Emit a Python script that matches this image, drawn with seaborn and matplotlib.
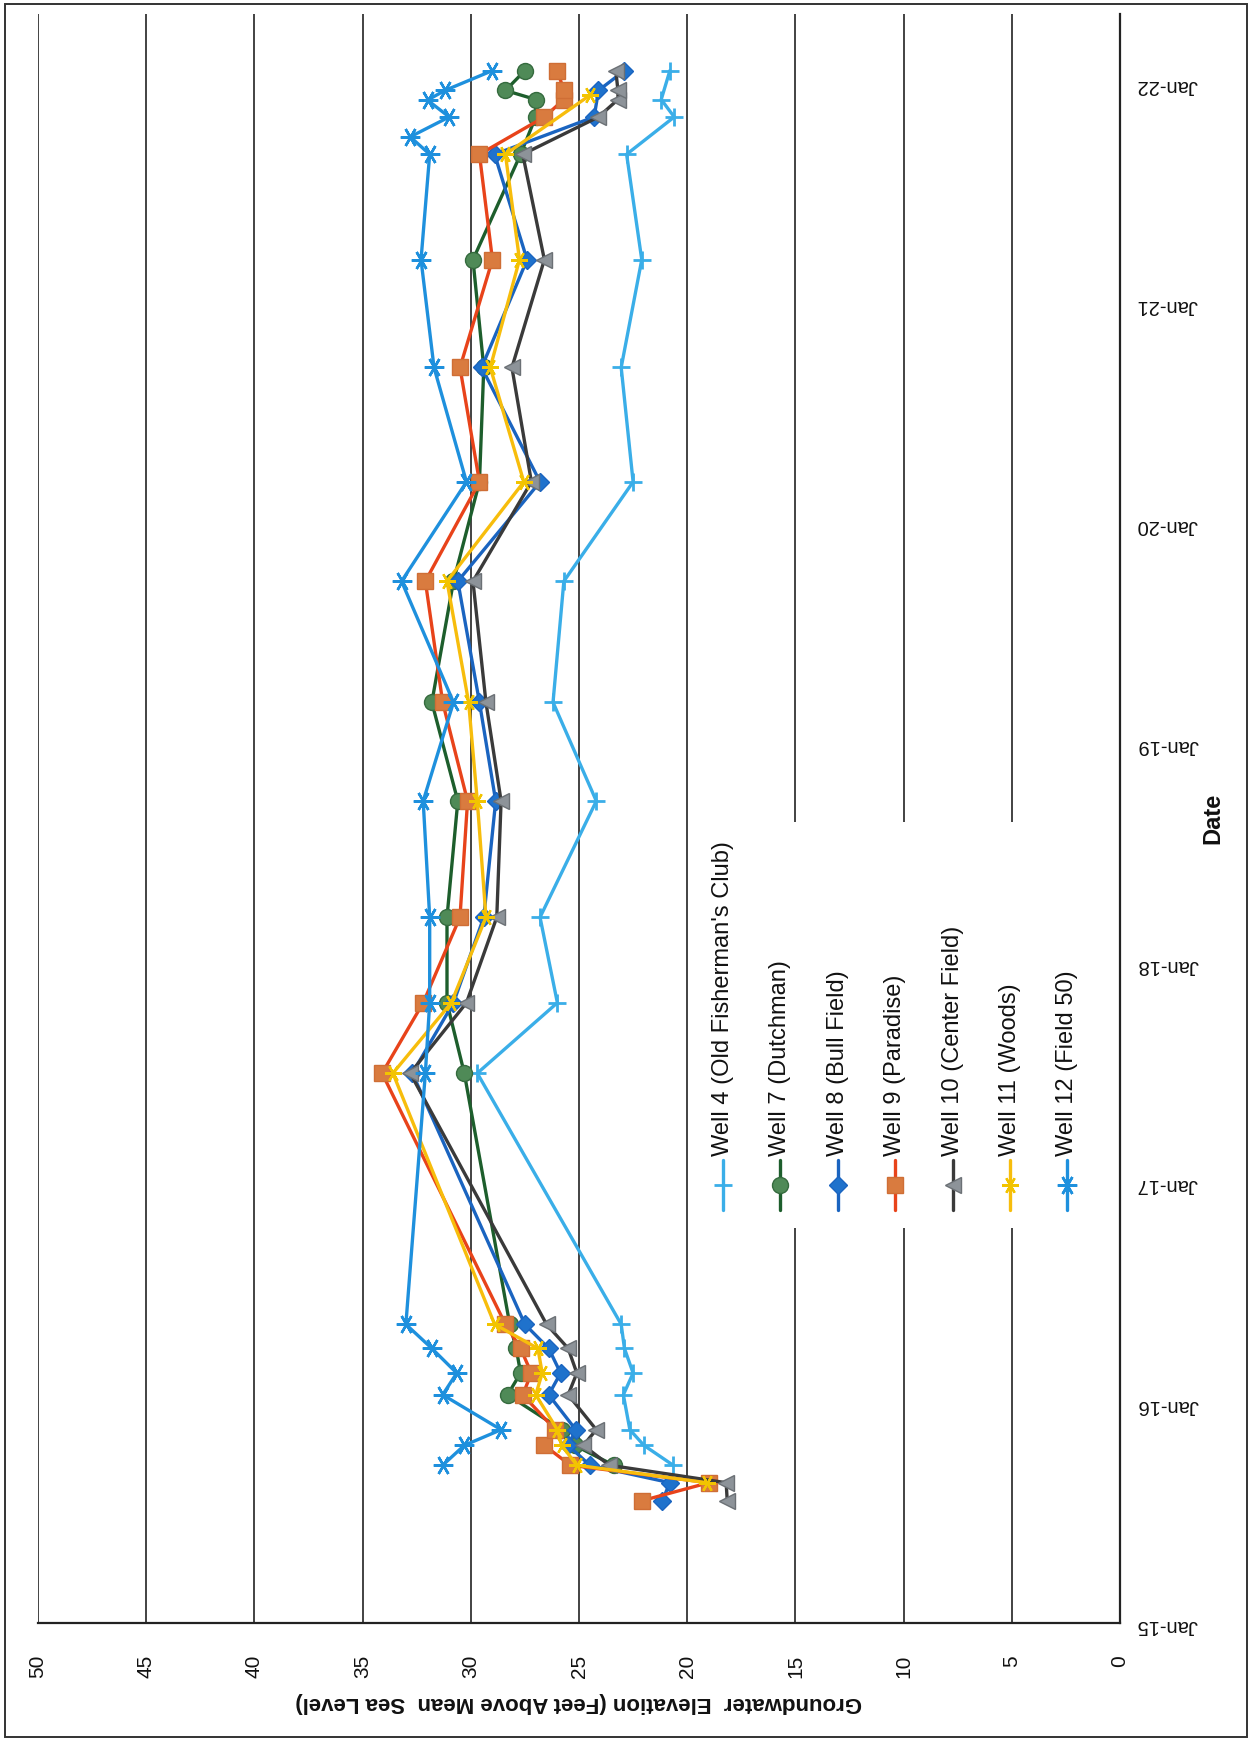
import numpy as np
import pandas as pd
import matplotlib
matplotlib.use("Agg")
import matplotlib.pyplot as plt
import matplotlib.dates as mdates
from matplotlib.lines import Line2D
from matplotlib.patches import Rectangle
import seaborn as sns

sns.set_theme(style="white")
plt.rcParams['font.family'] = ['Liberation Sans', 'DejaVu Sans']

# ---------------- data ----------------
well_names = ["Well 4 (Old Fisherman's Club)", "Well 7 (Dutchman)", "Well 8 (Bull Field)",
              "Well 9 (Paradise)", "Well 10 (Center Field)", "Well 11 (Woods)", "Well 12 (Field 50)"]

w4_dates = ["2015-09-20", "2015-10-23", "2015-11-18", "2016-01-15", "2016-02-20", "2016-04-01", "2016-05-11",
            "2017-07-02", "2017-10-27", "2018-03-18", "2018-09-27", "2019-03-10", "2019-09-27", "2020-03-10",
            "2020-09-16", "2021-03-14", "2021-09-05", "2021-11-06", "2021-12-05", "2022-01-22"]
w4_elev = [20.65, 22.0, 22.65, 22.95, 22.5, 22.9, 23.05, 29.7, 26.0, 26.8, 24.2, 26.2, 25.7, 22.5,
           23.05, 22.1, 22.8, 20.6, 21.2, 20.8]

w7_dates = ["2015-09-20", "2015-10-23", "2015-11-18", "2016-01-15", "2016-02-20", "2016-04-01", "2016-05-11",
            "2017-07-02", "2017-10-27", "2018-03-18", "2018-09-27", "2019-03-10", "2019-09-27", "2020-03-10",
            "2020-09-16", "2021-03-14", "2021-09-05", "2021-11-06", "2021-12-05", "2021-12-20", "2022-01-22"]
w7_elev = [23.4, 25.2, 25.8, 28.3, 27.7, 27.9, 28.2, 30.3, 31.1, 31.1, 30.6, 31.8, 30.8, 29.6,
           29.4, 29.9, 27.7, 27.0, 27.0, 28.4, 27.5]

w8_dates = ["2015-07-23", "2015-08-22", "2015-09-20", "2015-10-23", "2015-11-18", "2016-01-15", "2016-02-20",
            "2016-04-01", "2016-05-11", "2017-07-02", "2017-10-27", "2018-03-18", "2018-09-27", "2019-03-10",
            "2019-09-27", "2020-03-10", "2020-09-16", "2021-03-14", "2021-09-05", "2021-11-06", "2021-12-20",
            "2022-01-22"]
w8_elev = [21.15, 20.8, 24.5, 25.5, 25.15, 26.4, 25.85, 26.4, 27.5, 32.7, 30.8, 29.4, 28.85, 29.6,
           30.6, 26.8, 29.5, 27.4, 28.9, 24.3, 24.1, 22.9]

w9_dates = ["2015-07-23", "2015-08-22", "2015-09-20", "2015-10-23", "2015-11-18", "2016-01-15", "2016-02-20",
            "2016-04-01", "2016-05-11", "2017-07-02", "2017-10-27", "2018-03-18", "2018-09-27", "2019-03-10",
            "2019-09-27", "2020-03-10", "2020-09-16", "2021-03-14", "2021-09-05", "2021-11-06", "2021-12-05",
            "2021-12-20", "2022-01-22"]
w9_elev = [22.1, 19.0, 25.4, 26.6, 26.1, 27.6, 27.2, 27.7, 28.4, 34.1, 32.2, 30.5, 30.15, 31.3,
           32.1, 29.6, 30.5, 29.0, 29.6, 26.6, 25.7, 25.7, 26.0]

w10_dates = list(w9_dates)
w10_elev = [18.15, 18.2, 23.6, 24.8, 24.2, 25.5, 25.1, 25.5, 26.5, 32.8, 30.2, 28.8, 28.6, 29.3,
            29.9, 27.2, 28.1, 26.6, 27.6, 24.1, 23.2, 23.2, 23.3]

w11_dates = ["2015-08-22", "2015-09-20", "2015-10-23", "2015-11-18", "2016-01-15", "2016-02-20", "2016-04-01",
             "2016-05-11", "2017-07-02", "2017-10-27", "2018-03-18", "2018-09-27", "2019-03-10", "2019-09-27",
             "2020-03-10", "2020-09-16", "2021-03-14", "2021-09-05", "2021-12-12"]
w11_elev = [19.1, 25.1, 25.8, 26.0, 27.0, 26.7, 26.9, 28.9, 33.6, 30.9, 29.3, 29.7, 30.1, 31.1,
            27.55, 29.1, 27.75, 28.4, 24.5]

w12_dates = ["2015-09-20", "2015-10-23", "2015-11-18", "2016-01-15", "2016-02-20", "2016-04-01", "2016-05-11",
             "2017-07-02", "2017-10-27", "2018-03-18", "2018-09-27", "2019-03-10", "2019-09-27", "2020-03-10",
             "2020-09-16", "2021-03-14", "2021-09-05", "2021-10-04", "2021-11-06", "2021-12-04", "2021-12-20",
             "2022-01-22"]
w12_elev = [31.3, 30.3, 28.6, 31.3, 30.65, 31.8, 33.0, 32.1, 31.9, 31.9, 32.2, 30.8, 33.2, 30.2,
            31.7, 32.3, 31.9, 32.8, 31.0, 32.0, 31.2, 29.0]

value_ticks = list(range(0, 55, 5))
year_ticks = list(range(2015, 2023))

all_dates = [w4_dates, w7_dates, w8_dates, w9_dates, w10_dates, w11_dates, w12_dates]
all_elev = [w4_elev, w7_elev, w8_elev, w9_elev, w10_elev, w11_elev, w12_elev]

frames = []
for name, d, e in zip(well_names, all_dates, all_elev):
    frames.append(pd.DataFrame({"Date": pd.to_datetime(d), "Elevation": e, "Well": name}))
df = pd.concat(frames, ignore_index=True)

# ---------------- styles ----------------
star = (6, 2, 90)
styles = [
    dict(color="#3aaee8", marker="+", markersize=13, markerfacecolor="#3aaee8", markeredgecolor="#3aaee8", markeredgewidth=2.0),
    dict(color="#1d5e2c", marker="o", markersize=11.5, markerfacecolor="#4f8a57", markeredgecolor="#356b3e", markeredgewidth=1.0),
    dict(color="#1a64c0", marker="D", markersize=9, markerfacecolor="#1f72cc", markeredgecolor="#1a64c0", markeredgewidth=1.0),
    dict(color="#e8431a", marker="s", markersize=11.5, markerfacecolor="#d97b3f", markeredgecolor="#cf6e35", markeredgewidth=1.0),
    dict(color="#3a3a3a", marker="<", markersize=11.5, markerfacecolor="#8d9399", markeredgecolor="#6b7075", markeredgewidth=1.0),
    dict(color="#f7bd0c", marker=star, markersize=12, markerfacecolor="#f2c400", markeredgecolor="#f2c400", markeredgewidth=1.6),
    dict(color="#1e90dd", marker=star, markersize=14, markerfacecolor="#1e90dd", markeredgecolor="#1e90dd", markeredgewidth=1.8),
]

W, H = 1254, 1746
fig = plt.figure(figsize=(W / 100, H / 100), dpi=100)
fig.patch.set_facecolor("white")

def fx(px):
    return px / W

def fy(py):
    return 1 - py / H

ax_left, ax_right, ax_top, ax_bottom = 38, 1120, 14, 1623
ax = fig.add_axes([fx(ax_left), fy(ax_bottom), fx(ax_right) - fx(ax_left), fy(ax_top) - fy(ax_bottom)])
ax.set_facecolor("white")

for name, st in zip(well_names, styles):
    sub = df[df["Well"] == name]
    sns.lineplot(data=sub, x="Elevation", y="Date", orient="y", estimator=None, sort=False,
                 ax=ax, linewidth=2.4, zorder=3, **st)

ax.set_xlim(50, 0)
ax.set_ylim(pd.Timestamp("2015-01-01"), pd.Timestamp("2022-04-26"))

ax.set_xticks(value_ticks)
ax.set_xticklabels([str(v) for v in value_ticks])
ax.set_yticks([pd.Timestamp(f"{y}-01-01") for y in year_ticks])
ax.yaxis.set_major_formatter(mdates.DateFormatter("%b-%y"))
ax.yaxis.tick_right()
ax.yaxis.set_label_position("right")

ax.tick_params(axis="x", labelrotation=90, length=0, pad=23, labelsize=15, colors="#111111")
ax.tick_params(axis="y", labelrotation=180, length=0, pad=12, labelsize=14.5, colors="#111111")

ax.set_xlabel("Groundwater  Elevation (Feet Above Mean  Sea Level)", rotation=180,
              fontsize=16, fontweight="bold", labelpad=10, color="#111111")
ax.set_ylabel("Date", rotation=90, fontsize=17, fontweight="bold", labelpad=2, color="#111111")

ax.grid(False)
ax.xaxis.grid(True, color="#222222", linewidth=1.2)
ax.set_axisbelow(True)
for s in ["top", "left"]:
    ax.spines[s].set_visible(False)
for s in ["bottom", "right"]:
    ax.spines[s].set_visible(True)
    ax.spines[s].set_color("#222222")
    ax.spines[s].set_linewidth(1.6)

# legend area (white box hiding gridlines), drawn manually in rotated layout
ax.add_patch(Rectangle((fx(712), fy(1228)), fx(1100) - fx(712), fy(822) - fy(1228),
                       transform=fig.transFigure, facecolor="white", edgecolor="none", zorder=1))
leg_x = [723, 780, 838, 895, 953, 1010, 1067]
for name, st, x in zip(well_names, styles, leg_x):
    fig.add_artist(Line2D([fx(x), fx(x)], [fy(1210), fy(1160)], transform=fig.transFigure,
                          color=st["color"], linewidth=2.4, zorder=4))
    mk = {k: v for k, v in st.items() if k != "color"}
    fig.add_artist(Line2D([fx(x)], [fy(1185)], transform=fig.transFigure, linestyle="none",
                          color=st["color"], zorder=5, **mk))
    fig.text(fx(x), fy(1156), name, rotation=90, ha="center", va="bottom", fontsize=17,
             color="#111111", transform=fig.transFigure)

# page frame
fig.add_artist(Rectangle((fx(5), fy(1737)), fx(1247) - fx(5), fy(4) - fy(1737),
                         transform=fig.transFigure, fill=False, edgecolor="#333333", linewidth=1.4))

fig.savefig("out.png", dpi=100, facecolor="white")
